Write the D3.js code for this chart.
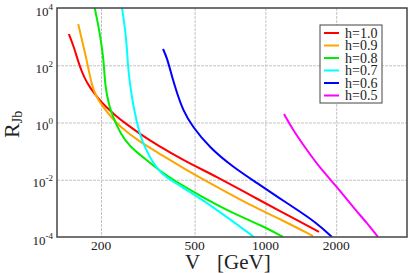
<!DOCTYPE html>
<html>
<head>
<meta charset="utf-8">
<script src="https://cdn.jsdelivr.net/npm/d3@7"></script>
<style>
  body { margin: 0; background: #fff; }
</style>
</head>
<body>
<script>
// data: V [GeV] and R_Jb for each h
var labels = ["h=1.0", "h=0.9", "h=0.8", "h=0.7", "h=0.6", "h=0.5"];

var v10 = [146, 154, 160, 169, 180, 194, 210, 229, 256, 293, 346, 446, 623, 860, 1153, 1690];
var r10 = [1236, 401, 130, 38.9, 16.0, 7.18, 3.48, 1.83, 0.887, 0.396, 0.164, 0.049, 0.0125, 0.00293, 8.1e-4, 1.5e-4];

var v09 = [160, 166, 173, 178, 183, 190, 204, 221, 241, 293, 346, 446, 623, 860, 1153, 1594];
var r09 = [2760, 762, 179, 58.1, 20.4, 8.43, 3.48, 1.56, 0.697, 0.208, 0.093, 0.0257, 0.00558, 0.00131, 4.26e-4, 1.08e-4];

var v08 = [185, 196, 202, 206, 208, 216, 225, 241, 266, 305, 356, 413, 512, 707, 977, 1188];
var r08 = [19000, 2000, 401, 102, 20.4, 4.08, 1.56, 0.43, 0.139, 0.0575, 0.0202, 0.00904, 0.00318, 7.46e-4, 2.42e-4, 1e-4];

var v07 = [243, 253, 258, 260, 266, 274, 284, 293, 308, 333, 360, 393, 512, 687, 894];
var r07 = [19000, 2000, 401, 102, 20.4, 4.08, 1.04, 0.366, 0.128, 0.0385, 0.0172, 0.0098, 0.0027, 5.0e-4, 1e-4];

var v06 = [367, 382, 401, 421, 446, 487, 581, 728, 921, 1153, 1310, 1657, 1919];
var r06 = [370, 179, 38.9, 10.7, 2.73, 0.755, 0.128, 0.0279, 0.00769, 0.00221, 0.00112, 3.08e-4, 1e-4];

var v05 = [1200, 1310, 1502, 1707, 2016, 2357, 2704, 3011];
var r05 = [1.98, 0.547, 0.109, 0.0257, 0.00558, 0.00112, 3.08e-4, 1e-4];

var xTicks = [200, 500, 1000, 2000];
var yTicks = [1e-4, 1e-2, 1, 1e2, 1e4];
var yExps = ["-4", "-2", "0", "2", "4"];

var seriesV = [v10, v09, v08, v07, v06, v05];
var seriesR = [r10, r09, r08, r07, r06, r05];
var colors = ["#ff0000", "#ffa500", "#00ee00", "#00ffff", "#0000ff", "#ff00ff"];

var FONT = "Liberation Serif, DejaVu Serif, serif";

var W = 409, H = 273;
var margin = { top: 8, right: 2, bottom: 36, left: 57 },
    width = W - margin.left - margin.right,
    height = H - margin.top - margin.bottom;

var x = d3.scaleLog().domain([130, 4000]).range([0, width]);
var y = d3.scaleLog().domain([1e-4, 1e4]).range([height, 0]);

var svg = d3.select("body").append("svg")
    .attr("width", W)
    .attr("height", H)
    .style("font-family", FONT);

var g = svg.append("g")
    .attr("transform", "translate(" + margin.left + "," + margin.top + ")");

g.append("clipPath").attr("id", "clip")
  .append("rect").attr("width", width).attr("height", height);

// grid
g.append("g")
    .call(d3.axisBottom(x).tickValues(xTicks).tickSize(height).tickFormat(""))
    .call(function (s) {
        s.select(".domain").remove();
        s.selectAll("line").attr("stroke", "#c4c4c4").attr("stroke-dasharray", "3,1");
    });
g.append("g")
    .call(d3.axisLeft(y).tickValues(yTicks.slice(1, 4)).tickSize(-width).tickFormat(""))
    .call(function (s) {
        s.select(".domain").remove();
        s.selectAll("line").attr("stroke", "#c4c4c4").attr("stroke-dasharray", "3,1");
    });

// curves
var line = d3.line()
    .x(function (d) { return x(d[0]); })
    .y(function (d) { return y(d[1]); })
    .curve(d3.curveBasis);

var curves = g.append("g").attr("clip-path", "url(#clip)");
seriesV.forEach(function (vs, i) {
    var pts = vs.map(function (v, j) { return [v, seriesR[i][j]]; });
    curves.append("path")
        .datum(pts)
        .attr("fill", "none")
        .attr("stroke", colors[i])
        .attr("stroke-width", 2)
        .attr("d", line);
});

// frame
g.append("rect")
    .attr("width", width).attr("height", height)
    .attr("fill", "none")
    .attr("stroke", "#444")
    .attr("stroke-width", 1.5);

// x tick labels
g.selectAll(".xlab")
    .data(xTicks)
    .enter().append("text")
    .attr("x", function (d) { return x(d); })
    .attr("y", height + 13)
    .attr("text-anchor", "middle")
    .attr("fill", "#222")
    .style("font-size", "13.5px")
    .text(function (d) { return d; });

// y tick labels 10^n
var yl = g.selectAll(".ylab")
    .data(yTicks)
    .enter().append("text")
    .attr("x", -4)
    .attr("y", function (d) { return y(d) + 7.5; })
    .attr("text-anchor", "end")
    .attr("fill", "#222")
    .style("font-size", "13px");
yl.append("tspan").text("10");
yl.append("tspan")
    .attr("dy", -6)
    .style("font-size", "9px")
    .text(function (d, i) { return yExps[i]; });

// axis titles
svg.append("text")
    .attr("x", 185).attr("y", 269)
    .attr("fill", "#222")
    .style("font-size", "21px")
    .text("V");
svg.append("text")
    .attr("x", 217).attr("y", 269)
    .attr("fill", "#222")
    .style("font-size", "21px")
    .text("[GeV]");

var yt = svg.append("text")
    .attr("transform", "translate(19,138) rotate(-90)")
    .attr("fill", "#222")
    .style("font-size", "22px");
yt.append("tspan").text("R");
yt.append("tspan").attr("dy", 3).style("font-size", "14px").text("Jb");

// legend
var lg = svg.append("g").attr("transform", "translate(320,25)");
lg.append("rect")
    .attr("width", 62).attr("height", 78)
    .attr("fill", "#fff")
    .attr("stroke", "#444")
    .attr("stroke-width", 1);
labels.forEach(function (lab, i) {
    var yy = 8 + i * 12.5;
    lg.append("line")
        .attr("x1", 4).attr("x2", 19)
        .attr("y1", yy).attr("y2", yy)
        .attr("stroke", colors[i])
        .attr("stroke-width", 2);
    lg.append("text")
        .attr("x", 25).attr("y", yy + 4.5)
        .attr("fill", "#222")
        .style("font-size", "14px")
        .text(lab);
});
</script>
</body>
</html>
